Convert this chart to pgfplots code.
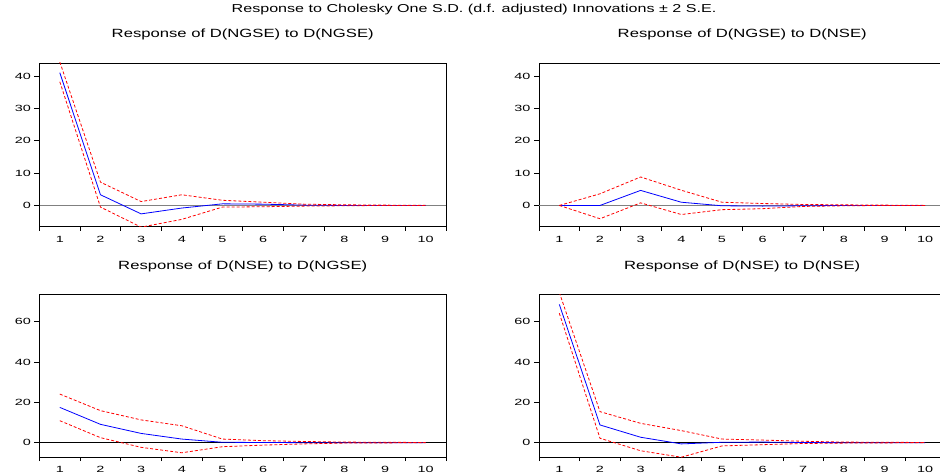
\documentclass[border=0pt]{standalone}
\usepackage{fontspec}
\setmainfont{Liberation Sans}[FakeStretch=1.4]
\newfontfamily\tickfont{Liberation Sans}[FakeStretch=1.6]
\usepackage{pgfplots}
\pgfplotsset{compat=1.18}

% impulse responses: response, upper and lower 2 S.E. bands
\pgfplotstableread{
x  r     up    lo
1  41.0  44.3  38.2
2  3.3   7.2  -0.5
3  -2.6  1.2  -6.7
4  -0.8  3.3  -4.3
5  0.5   1.6  -0.5
6  0.4   1.0  -0.4
7  0.1   0.4  -0.2
8  0.0   0.2  -0.1
9  0.0   0.1   0.0
10 0.0   0.05  0.0
}\tabA
\pgfplotstableread{
x  r     up    lo
1  0.0   0.0   0.0
2  0.0   3.6  -4.1
3  4.65  8.8   0.8
4  1.0   4.7  -2.8
5  -0.1  1.0  -1.3
6  -0.2  0.6  -1.0
7  -0.1  0.3  -0.3
8  0.0   0.2  -0.1
9  0.0   0.1   0.0
10 0.0   0.05  0.0
}\tabB
\pgfplotstableread{
x  r     up    lo
1  17.5  24.1  10.9
2  9.1   15.9  2.5
3  4.6   11.3 -2.3
4  1.8   8.4  -5.0
5  0.2   1.8  -2.0
6  0.1   1.0  -1.2
7  0.0   0.6  -0.6
8  0.0   0.3  -0.2
9  0.0   0.2  -0.1
10 0.0   0.1   0.0
}\tabC
\pgfplotstableread{
x  r     up    lo
1  68.6  74.5  64.2
2  8.8   15.4  2.2
3  2.7   9.6  -4.0
4  -0.6  6.0  -7.2
5  0.2   1.8  -1.6
6  0.3   1.3  -1.0
7  0.1   0.7  -0.4
8  0.0   0.3  -0.2
9  0.0   0.2  -0.1
10 0.0   0.1   0.0
}\tabD

\pgfplotsset{
  irf/.style={
    scale only axis,
    width=406.5pt,
    anchor=south west,
    xmin=0.5, xmax=10.5,
    xtick={1,...,10},
    minor xtick={0.5,1.5,...,10.5},
    major x tick style={draw=none},
    minor tick length=4pt,
    major tick length=5pt,
    tick align=outside,
    xtick pos=bottom, ytick pos=left,
    axis line style={line width=0.8pt},
    tick style={line width=0.7pt, black},
    tick label style={font=\tickfont\fontsize{9}{9}\selectfont},
    /pgf/number format/assume math mode=true,
    xticklabel style={yshift=-1pt},
    title style={font=\fontsize{11.9}{12}\selectfont, at={(0.5,1)}, anchor=base, yshift=19pt},
  },
  resp/.style={blue, line width=0.8pt, no marks},
  band/.style={red, line width=0.8pt, no marks, dash pattern=on 3pt off 2pt},
}

\begin{document}
\begin{tikzpicture}
\node[anchor=base, font=\fontsize{11.5}{12}\selectfont] at (474pt,-12.3pt)
  {Response to Cholesky One S.D. (d.f. adjusted) Innovations ± 2 S.E.};

\begin{axis}[irf, at={(39.5pt,-226.5pt)}, height=163.5pt,
  ymin=-6.5, ymax=44, ytick={0,10,20,30,40},
  title={Response of D(NGSE) to D(NGSE)}]
\addplot[gray, line width=0.7pt] coordinates {(0.5,0) (10.5,0)};
\addplot[resp] table[x=x,y=r] {\tabA};
\addplot[band] table[x=x,y=up] {\tabA};
\addplot[band] table[x=x,y=lo] {\tabA};
\end{axis}

\begin{axis}[irf, at={(539pt,-226.5pt)}, height=163.5pt,
  ymin=-6.5, ymax=44, ytick={0,10,20,30,40},
  title={Response of D(NGSE) to D(NSE)}]
\addplot[gray, line width=0.7pt] coordinates {(0.5,0) (10.5,0)};
\addplot[resp] table[x=x,y=r] {\tabB};
\addplot[band] table[x=x,y=up] {\tabB};
\addplot[band] table[x=x,y=lo] {\tabB};
\end{axis}

\begin{axis}[irf, at={(39.5pt,-457pt)}, height=162.7pt,
  ymin=-7.1, ymax=73.6, ytick={0,20,40,60},
  title={Response of D(NSE) to D(NGSE)}]
\addplot[black, line width=0.7pt] coordinates {(0.5,0) (10.5,0)};
\addplot[resp] table[x=x,y=r] {\tabC};
\addplot[band] table[x=x,y=up] {\tabC};
\addplot[band] table[x=x,y=lo] {\tabC};
\end{axis}

\begin{axis}[irf, at={(539pt,-457pt)}, height=162.7pt,
  ymin=-7.1, ymax=73.6, ytick={0,20,40,60},
  title={Response of D(NSE) to D(NSE)}]
\addplot[black, line width=0.7pt] coordinates {(0.5,0) (10.5,0)};
\addplot[resp] table[x=x,y=r] {\tabD};
\addplot[band] table[x=x,y=up] {\tabD};
\addplot[band] table[x=x,y=lo] {\tabD};
\end{axis}

\pgfresetboundingbox
\useasboundingbox (0pt,0pt) rectangle (940pt,-476pt);
\end{tikzpicture}
\end{document}
